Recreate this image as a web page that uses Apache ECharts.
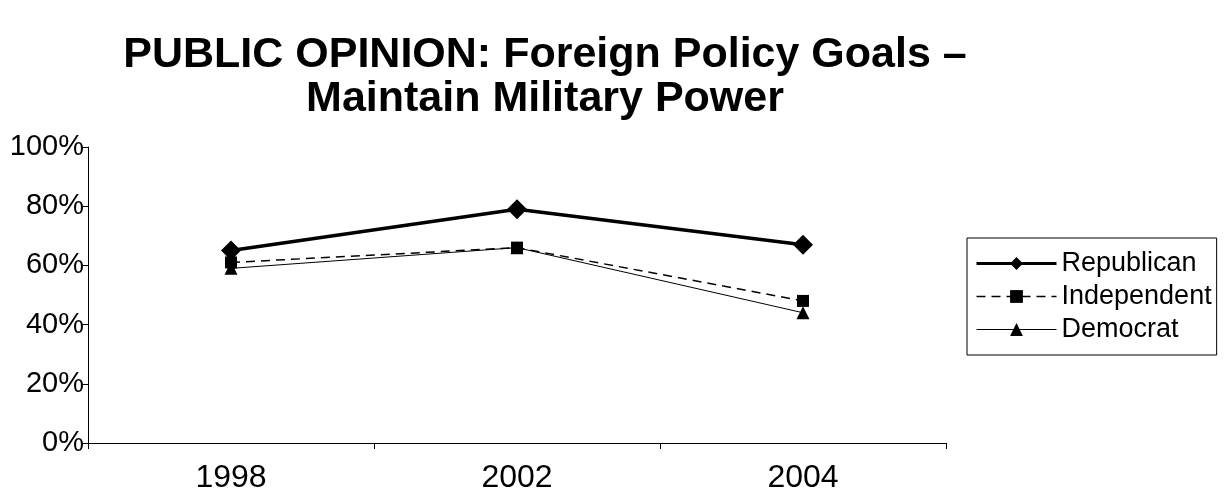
<!DOCTYPE html>
<html><head><meta charset="utf-8">
<script src="https://cdn.jsdelivr.net/npm/echarts@6/dist/echarts.min.js"></script>
<style>html,body{margin:0;padding:0;background:#fff}#c{width:1228px;height:504px}</style>
</head><body><div id="c"></div>
<script>
const categories = ['1998', '2002', '2004'];
const republican = [65, 79, 67];
const independent = [61, 66, 48];
const democrat = [59, 66, 44];
const yTicks = [0, 20, 40, 60, 80, 100];

const font = '"Liberation Sans", Arial, sans-serif';
const chart = echarts.init(document.getElementById('c'));
chart.setOption({
  animation: false,
  backgroundColor: '#fff',
  title: {
    text: 'PUBLIC OPINION: Foreign Policy Goals –\nMaintain Military Power',
    left: 540, textAlign: 'center', top: 28,
    textStyle: { fontFamily: font, fontSize: 43, fontWeight: 'bold', color: '#000', lineHeight: 44 }
  },
  legend: {
    orient: 'vertical', left: 967, top: 238,
    padding: [10, 5, 10, 8],
    borderColor: '#000', borderWidth: 1,
    itemWidth: 80, itemHeight: 16, itemGap: 2,
    textStyle: { fontFamily: font, fontSize: 27, color: '#000', lineHeight: 31 },
    data: [
      { name: 'Republican', lineStyle: { width: 3 } },
      { name: 'Independent', lineStyle: { width: 1.5, type: [9, 6] } },
      { name: 'Democrat', lineStyle: { width: 1.2 } }
    ]
  },
  grid: { left: 88, right: 282, top: 147, bottom: 61 },
  xAxis: {
    type: 'category', data: categories, boundaryGap: true,
    axisLine: { lineStyle: { color: '#000', width: 1 } },
    axisTick: { show: true, length: 6, lineStyle: { color: '#000' } },
    axisLabel: { fontFamily: font, fontSize: 32, color: '#000', margin: 19 }
  },
  yAxis: {
    type: 'value', min: 0, max: 100, interval: 20,
    splitLine: { show: false },
    axisLine: { show: true, lineStyle: { color: '#000', width: 1 } },
    axisTick: { show: true, length: 5, lineStyle: { color: '#000' } },
    axisLabel: { fontFamily: font, fontSize: 29, color: '#000', margin: 4,
      formatter: v => yTicks.includes(v) ? v + '%' : '' }
  },
  series: [
    { name: 'Republican', type: 'line', data: republican, symbol: 'diamond', symbolSize: 20,
      lineStyle: { color: '#000', width: 3.5 }, itemStyle: { color: '#000' } },
    { name: 'Independent', type: 'line', data: independent, symbol: 'rect', symbolSize: 12,
      lineStyle: { color: '#000', width: 1.5, type: [9, 6] }, itemStyle: { color: '#000' } },
    { name: 'Democrat', type: 'line', data: democrat, symbol: 'triangle', symbolSize: 13,
      lineStyle: { color: '#000', width: 1 }, itemStyle: { color: '#000' } }
  ]
});
</script></body></html>
